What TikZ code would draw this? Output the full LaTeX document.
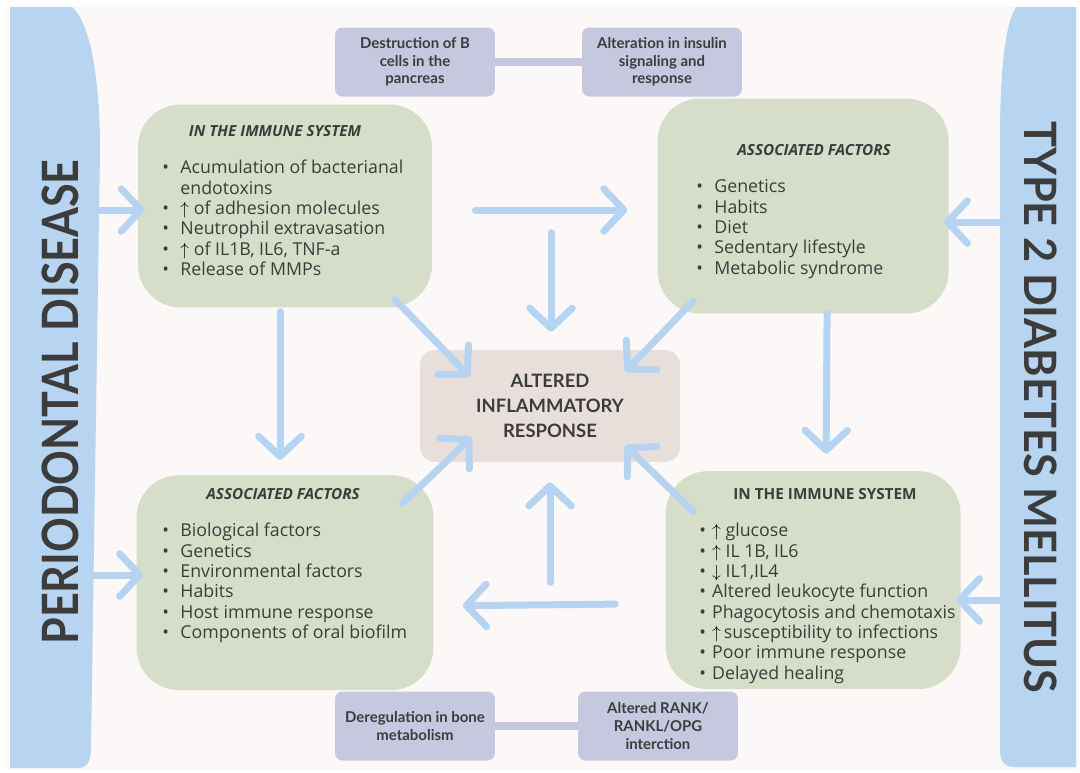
\documentclass[tikz,border=0pt]{standalone}
\usepackage{fontspec}
\setmainfont{Lato}
\newfontfamily\bodyfont{Open Sans}
\usepackage{xcolor}
\usetikzlibrary{arrows.meta, positioning}
\definecolor{paper}{HTML}{FCF8F7}
\definecolor{sideblue}{HTML}{B7D4F0}
\definecolor{arrowblue}{HTML}{B6D4F1}
\definecolor{sage}{HTML}{D6DEC9}
\definecolor{rose}{HTML}{E9DFDA}
\definecolor{lilac}{HTML}{C6C8E0}
\definecolor{ink}{HTML}{3C3C3C}
\tikzset{> = { Straight Barb[length = 4mm, width = 8.5mm, round] }}
\newcommand{\upar}{{\color{black}\(\uparrow\)}}
\newcommand{\dnar}{{\color{black}\(\downarrow\)}}

\begin{document}
\begin{tikzpicture}[x = 0.02cm, y = -0.02cm, text = ink,
		flow/.style = { ->, draw = arrowblue, line width = 0.14cm, line cap = round },
		link/.style = { draw = lilac, line width = 0.16cm },
		sagebox/.style = { fill = sage, rounded corners = 0.85cm },
		pill/.style = { fill = lilac, rounded corners = 0.15cm, minimum width = 3.2cm, minimum height = 1.38cm, align = center, font = \fontsize{8.5}{10}\selectfont\bfseries },
		head/.style = { inner sep = 0pt, font = \bodyfont\fontsize{8.7}{10}\selectfont\bfseries\itshape },
		list/.style = { inner sep = 0pt, anchor = north west, font = \bodyfont\fontsize{10.1}{11.6}\selectfont },
		sidetext/.style = { inner sep = 0pt, font = \fontsize{28.5}{30}\selectfont\bfseries }]
		\useasboundingbox [fill = white] (0,0) rectangle (1080,772);
		\fill [paper] (5,7) rectangle (1078,770);

		% the two side bands, with their big rounded corner facing the middle
		\fill [sideblue] (10,7) -- (72,7) .. controls (88,20) and (100,70) .. (100,150) -- (91,748) .. controls (91,760) and (88,768) .. (78,768) -- (10,768) -- cycle;
		\fill [sideblue] (1076,7) -- (1016,7) .. controls (1005,25) and (1000,70) .. (1000,140) -- (1000,750) .. controls (1000,762) and (1005,767) .. (1015,767) -- (1076,767) -- cycle;
		\node [sidetext, rotate = 90]  (pd) at (60,402)   {\scalebox{0.86}[1]{PERIODONTAL DISEASE}};
		\node [sidetext, rotate = -90, font = \fontsize{25.4}{27}\selectfont\bfseries] (dm) at (1041,407) {\scalebox{0.97}[1]{TYPE 2 DIABETES MELLITUS}};
		\coordinate (pdTop) at (98,210);
		\coordinate (pdBot) at (94,575);
		\coordinate (dmTop) at (1000,222);
		\coordinate (dmBot) at (1000,600);

		\node [sagebox, minimum width = 5.88cm, minimum height = 4.06cm] (tlBox) at (285,206) {};
		\node [sagebox, minimum width = 5.82cm, minimum height = 4.3cm, right = 4.5cm of tlBox] (trBox) {};
		\node [sagebox, minimum width = 5.94cm, minimum height = 4.3cm, below = 3.34cm of tlBox] (blBox) {};
		\node [sagebox, minimum width = 5.9cm, minimum height = 4.36cm, below = 3.14cm of trBox, xshift = 0.2cm] (brBox) {};
		\node [fill = rose, rounded corners = 0.3cm, minimum width = 5.2cm, minimum height = 2.24cm, align = center, font = \fontsize{10.5}{14.2}\selectfont\bfseries] (inflam) at (550,406) {ALTERED\\ INFLAMMATORY\\ RESPONSE};

		\node [pill] (cells)   at (415,62)  {Destruction of B\\ cells in the\\ pancreas};
		\node [pill] (insulin) at (662,62)  {Alteration in insulin\\ signaling and\\ response};
		\node [pill] (bone)    at (415,726) {Deregulation in bone\\ metabolism};
		\node [pill] (rank)    at (658,726) {Altered RANK/\\ RANKL/OPG\\ interction};
		\draw [link] (cells) -- (insulin);
		\draw [link] (bone) -- (rank);

		\node [head] (tlHead) at (275,131) {IN THE IMMUNE SYSTEM};
		\node [list] (tlList) at (162,159) {\begin{tabular}{@{}l@{\hspace{6.5pt}}l@{}}
			\textbullet & Acumulation of bacterianal \\
			            & endotoxins \\
			\textbullet & \upar\ of adhesion molecules \\
			\textbullet & Neutrophil extravasation \\
			\textbullet & \upar\ of IL1B, IL6, TNF-a \\
			\textbullet & Release of MMPs
		\end{tabular}};

		\node [head] (trHead) at (814,150) {ASSOCIATED FACTORS};
		\node [list] (trList) at (696,178) {\begin{tabular}{@{}l@{\hspace{6.5pt}}l@{}}
			\textbullet & Genetics \\
			\textbullet & Habits \\
			\textbullet & Diet \\
			\textbullet & Sedentary lifestyle \\
			\textbullet & Metabolic syndrome
		\end{tabular}};

		\node [head] (blHead) at (283,494) {ASSOCIATED FACTORS};
		\node [list] (blList) at (162,522) {\begin{tabular}{@{}l@{\hspace{6.5pt}}l@{}}
			\textbullet & Biological factors \\
			\textbullet & Genetics \\
			\textbullet & Environmental factors \\
			\textbullet & Habits \\
			\textbullet & Host immune response \\
			\textbullet & Components of oral biofilm
		\end{tabular}};

		\node [head, font = \bodyfont\fontsize{8.7}{10}\selectfont\bfseries] (brHead) at (825,494) {IN THE IMMUNE SYSTEM};
		\node [list] (brList) at (699,522) {\begin{tabular}{@{}l@{\hspace{3.5pt}}l@{}}
			\textbullet & \upar\ glucose \\
			\textbullet & \upar\ IL 1B, IL6 \\
			\textbullet & \dnar\ IL1,IL4 \\
			\textbullet & Altered leukocyte function \\
			\textbullet & Phagocytosis and chemotaxis \\
			\textbullet & \upar\,susceptibility to infections \\
			\textbullet & Poor immune response \\
			\textbullet & Delayed healing
		\end{tabular}};

		\draw [flow] (pdTop) -- ([xshift = 0.14cm]pdTop -| tlBox.west);
		\draw [flow] (pdBot) -- ([xshift = 0.14cm]pdBot -| blBox.west);
		\draw [flow] (dmTop) -- ([xshift = -0.1cm]dmTop -| trBox.east);
		\draw [flow] (dmBot) -- ([xshift = -0.1cm]dmBot -| brBox.east);

		\draw [flow] ([shift = {(43,4)}]tlBox.east) -- ([shift = {(-30,4)}]trBox.west);
		\draw [flow] ([shift = {(-50,24)}]brBox.west) -- ([shift = {(29,23)}]blBox.east);
		\draw [flow] ([shift = {(-5,4)}]tlBox.south) -- ([shift = {(-5,-15)}]blBox.north);
		\draw [flow] ([shift = {(24,0)}]trBox.south) -- ([shift = {(13,-17)}]brBox.north);

		\draw [flow] ([shift = {(1,-117)}]inflam.north) -- ([shift = {(1,-18)}]inflam.north);
		\draw [flow] ([shift = {(0,120)}]inflam.south) -- ([shift = {(0,20)}]inflam.south);
		\draw [flow] ([shift = {(-37,-8)}]tlBox.south east) -- ([shift = {(50,27)}]inflam.north west);
		\draw [flow] ([shift = {(36,-13)}]trBox.south west) -- ([shift = {(-55,22)}]inflam.north east);
		\draw [flow] ([shift = {(-31,28)}]blBox.north east) -- ([shift = {(52,-25)}]inflam.south west);
		\draw [flow] ([shift = {(28,41)}]brBox.north west) -- ([shift = {(-55,-17)}]inflam.south east);
	\end{tikzpicture}
\end{document}
